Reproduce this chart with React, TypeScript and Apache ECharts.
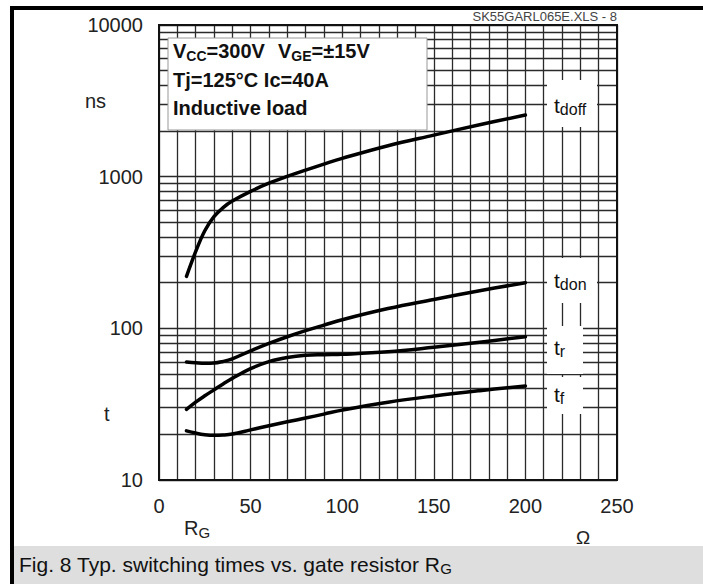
import React, { useEffect, useRef } from 'react';
import * as echarts from 'echarts';

// Gate resistor R_G (Ω)
const RG = [15, 20, 25, 30, 35, 40, 50, 60, 70, 80, 90, 100, 125, 150, 175, 200];
// switching times (ns)
const T_DOFF = [220, 320, 440, 545, 625, 690, 800, 905, 1005, 1105, 1210, 1320, 1600, 1880, 2200, 2550];
const T_DON = [60, 59.3, 58.8, 59, 60.5, 63, 71, 79.5, 88, 96.5, 105, 114, 135, 155, 177, 200];
const T_R = [29.2, 32.6, 35.9, 39.3, 43, 46.8, 54.2, 60.3, 64.2, 66.4, 67, 67.4, 70, 75, 81, 88];
const T_F = [21.1, 20.4, 19.9, 19.7, 19.8, 20.1, 21.4, 22.8, 24.2, 25.6, 27.2, 28.9, 32.6, 35.8, 38.8, 41.7];

// minor log grid lines
const MINOR_Y = [20, 30, 40, 50, 60, 70, 80, 90, 200, 300, 400, 500, 600, 700, 800, 900, 2000, 3000, 4000, 5000, 6000, 7000, 8000, 9000];

const FONT = '"Liberation Sans", Arial, Helvetica, sans-serif';

export default function App() {
  const ref = useRef<HTMLDivElement>(null);
  useEffect(() => {
    document.body.style.margin = '0';
    const chart = echarts.init(ref.current!, null, { renderer: 'svg' });
    const mk = (name: string, vals: number[], extra: any = {}) => ({
      type: 'line',
      name,
      data: RG.map((r, i) => [r, vals[i]]),
      smooth: 0.4,
      showSymbol: false,
      symbol: 'none',
      lineStyle: { color: '#000', width: 3.5, cap: 'round', join: 'round' },
      z: 5,
      ...extra,
    });
    const gridColor = '#2a2a2a';
    const subLabel = (x: number, y: number, sub: string) => ({
      type: 'text',
      x,
      y,
      z: 101,
      style: {
        text: `{t|t}{s|${sub}}`,
        verticalAlign: 'middle',
        rich: {
          t: { fontSize: 21, fontFamily: FONT, lineHeight: 24, fill: '#111', color: '#111' },
          s: { fontSize: 16, fontFamily: FONT, lineHeight: 16, verticalAlign: 'bottom', fill: '#111', color: '#111' },
        },
      },
    });
    const boldRich = {
      b: { fontSize: 20, fontWeight: 'bold', fontFamily: FONT, lineHeight: 24, fill: '#111', color: '#111' },
      s: { fontSize: 14, fontWeight: 'bold', fontFamily: FONT, lineHeight: 14, verticalAlign: 'bottom', fill: '#111', color: '#111' },
      g: { width: 13, lineHeight: 24, fontSize: 20 },
    };
    chart.setOption({
      animation: false,
      backgroundColor: '#fff',
      grid: {
        left: 159,
        top: 25,
        right: 86,
        bottom: 104,
        show: true,
        borderColor: '#111',
        borderWidth: 2,
        backgroundColor: 'transparent',
        z: 3,
      },
      xAxis: {
        type: 'value',
        min: 0,
        max: 250,
        interval: 50,
        axisLine: { show: false },
        axisTick: { show: false },
        axisLabel: { fontSize: 20, color: '#222', fontFamily: FONT, margin: 16 },
        splitLine: { show: true, lineStyle: { color: gridColor, width: 1.3 } },
        minorTick: { show: false, splitNumber: 5 },
        minorSplitLine: { show: true, lineStyle: { color: gridColor, width: 1.3 } },
      },
      yAxis: {
        type: 'log',
        logBase: 10,
        min: 10,
        max: 10000,
        axisLine: { show: false },
        axisTick: { show: false },
        axisLabel: {
          fontSize: 20,
          color: '#222',
          fontFamily: FONT,
          margin: 16,
          formatter: (v: number) => String(Math.round(v)),
        },
        splitLine: { show: true, lineStyle: { color: gridColor, width: 1.3 } },
      },
      series: [
        mk('t_doff', T_DOFF, {
          markLine: {
            silent: true,
            symbol: 'none',
            animation: false,
            label: { show: false },
            lineStyle: { color: gridColor, width: 1.3, type: 'solid' },
            emphasis: { disabled: true },
            data: MINOR_Y.map((v) => ({ yAxis: v })),
            z: 1,
          },
        }),
        mk('t_don', T_DON),
        mk('t_r', T_R),
        mk('t_f', T_F),
      ],
      graphic: [
        // figure frame
        { type: 'rect', z: 100, shape: { x: 10, y: 6, width: 693, height: 4 }, style: { fill: '#000' } },
        { type: 'rect', z: 100, shape: { x: 10, y: 6, width: 4, height: 578 }, style: { fill: '#000' } },
        { type: 'rect', z: 100, shape: { x: 14, y: 546, width: 689, height: 38 }, style: { fill: '#dedede' } },
        {
          type: 'text', x: 19, y: 564, z: 101,
          style: {
            text: '{m|Fig. 8 Typ. switching times vs. gate resistor R}{s|G}',
            verticalAlign: 'middle',
            rich: {
              m: { fontSize: 21, fontFamily: FONT, lineHeight: 24, fill: '#111', color: '#111' },
              s: { fontSize: 15, fontFamily: FONT, lineHeight: 15, verticalAlign: 'bottom', fill: '#111', color: '#111' },
            },
          },
        },
        // file tag
        {
          type: 'text', x: 617, y: 16, z: 101,
          style: { text: 'SK55GARL065E.XLS - 8', fontSize: 13, fontFamily: FONT, fill: '#444', align: 'right', verticalAlign: 'middle' },
        },
        // axis names
        { type: 'text', x: 85, y: 101, z: 101, style: { text: 'ns', fontSize: 20, fontFamily: FONT, fill: '#222', verticalAlign: 'middle' } },
        { type: 'text', x: 104, y: 414, z: 101, style: { text: 't', fontSize: 20, fontFamily: FONT, fill: '#222', verticalAlign: 'middle' } },
        {
          type: 'text', x: 184, y: 528, z: 101,
          style: {
            text: '{m|R}{s|G}',
            verticalAlign: 'middle',
            rich: {
              m: { fontSize: 20, fontFamily: FONT, lineHeight: 24, fill: '#222', color: '#222' },
              s: { fontSize: 15, fontFamily: FONT, lineHeight: 15, verticalAlign: 'bottom', fill: '#222', color: '#222' },
            },
          },
        },
        { type: 'text', x: 583, y: 537, z: 101, style: { text: 'Ω', fontSize: 19, fontFamily: FONT, fill: '#222', align: 'center', verticalAlign: 'middle' } },
        // condition box
        { type: 'rect', z: 100, shape: { x: 168, y: 38, width: 259, height: 92 }, style: { fill: '#fff', stroke: '#999', lineWidth: 1 } },
        {
          type: 'text', x: 173, y: 51, z: 101,
          style: { text: '{b|V}{s|CC}{b|=300V}{g| }{b|V}{s|GE}{b|=±15V}', verticalAlign: 'middle', rich: boldRich },
        },
        {
          type: 'text', x: 173, y: 80, z: 101,
          style: { text: '{b|Tj=125°C Ic=40A}', verticalAlign: 'middle', rich: boldRich },
        },
        {
          type: 'text', x: 173, y: 108, z: 101,
          style: { text: '{b|Inductive load}', verticalAlign: 'middle', rich: boldRich },
        },
        // curve label boxes
        { type: 'rect', z: 100, shape: { x: 547, y: 80, width: 50, height: 47 }, style: { fill: '#fff' } },
        { type: 'rect', z: 100, shape: { x: 547, y: 258, width: 50, height: 45 }, style: { fill: '#fff' } },
        { type: 'rect', z: 100, shape: { x: 547, y: 326, width: 36, height: 48 }, style: { fill: '#fff' } },
        { type: 'rect', z: 100, shape: { x: 547, y: 377, width: 36, height: 37 }, style: { fill: '#fff' } },
        subLabel(554, 105, 'doff'),
        subLabel(554, 280, 'don'),
        subLabel(554, 347, 'r'),
        subLabel(554, 394, 'f'),
      ],
    });
    return () => chart.dispose();
  }, []);
  return <div ref={ref} style={{ position: 'absolute', left: 0, top: 0, width: 703, height: 584 }} />;
}
